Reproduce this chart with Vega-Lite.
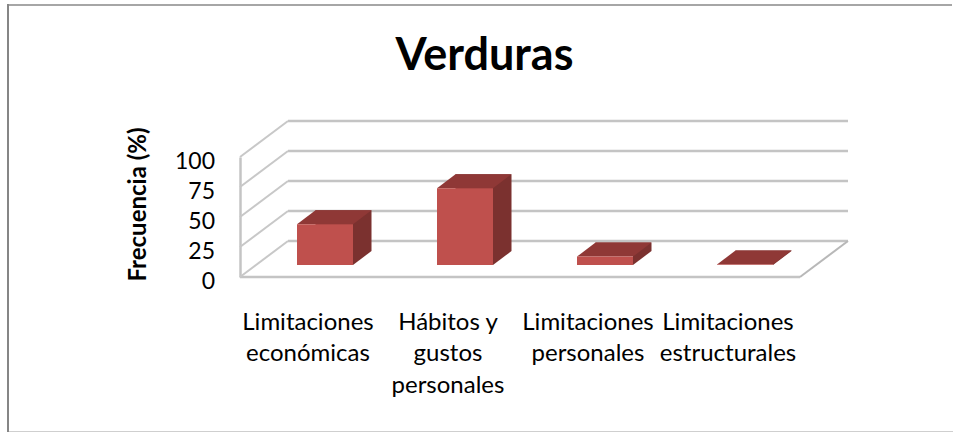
{
"$schema":"https://vega.github.io/schema/vega-lite/v6.json",
"width":953,"height":432,"padding":0,"autosize":{"type":"none"},"background":"white",
"config":{"view":{"stroke":null},"font":"Lato"},
"title":{"text":"Verduras","font":"Lato","fontSize":45,"fontWeight":"bold","color":"#000000","anchor":"middle","frame":"group","baseline":"middle","offset":0,"dx":8,"dy":101},
"datasets":{
"ticks":[{"v":0},{"v":25},{"v":50},{"v":75},{"v":100}],
"floor":[{"v":0}],
"bars":[
{"categoria":"Limitaciones económicas","v":34},
{"categoria":"Hábitos y gustos personales","v":64},
{"categoria":"Limitaciones personales","v":7},
{"categoria":"Limitaciones estructurales","v":0.4}]},
"encoding":{"y":{"field":"v","type":"quantitative","scale":{"domain":[0,100],"range":[277,157],"nice":false,"zero":false},
"axis":{"values":[0,25,50,75,100],"offset":-240,"grid":false,"ticks":false,"domain":true,"domainColor":"#c4c4c4","domainWidth":2.5,"labelPadding":25.5,"labelOffset":4.5,"labelFont":"Lato","labelFontSize":23,"labelColor":"#000000","labelFlush":false,"labelOverlap":false,"title":"Frecuencia (%)","titleFont":"Lato","titleFontSize":24,"titleFontWeight":"bold","titleColor":"#000000","titleX":-102,"titleY":204,"titleAngle":-90,"titleAlign":"center","titleBaseline":"middle"}}},
"layer":[
{"data":{"name":"floor"},"mark":{"type":"rule","color":"#a6a6a6","strokeWidth":2},
"encoding":{"x":{"value":7},"x2":{"value":952},"y":{"value":5}}},
{"data":{"name":"floor"},"mark":{"type":"rule","color":"#868686","strokeWidth":2},
"encoding":{"x":{"value":8},"y":{"value":4},"y2":{"value":432}}},
{"data":{"name":"floor"},"mark":{"type":"rule","color":"#cfcfcf","strokeWidth":1},
"encoding":{"x":{"value":9},"x2":{"value":953},"y":{"value":431.5}}},
{"data":{"name":"ticks"},"mark":{"type":"rule","color":"#c4c4c4","strokeWidth":2.5,"xOffset":48,"x2Offset":48,"yOffset":-36},
"encoding":{"x":{"datum":0,"type":"quantitative","scale":{"domain":[0,1],"range":[240,800]},"axis":null},"x2":{"datum":1}}},
{"data":{"name":"floor"},"mark":{"type":"rule","color":"#c4c4c4","strokeWidth":2.5},
"encoding":{"x":{"datum":0,"type":"quantitative","scale":{"domain":[0,1],"range":[240,800]},"axis":null},"x2":{"datum":1}}},
{"data":{"name":"ticks"},"mark":{"type":"point","shape":"M0,0L0.48,-0.36","size":40000,"filled":false,"stroke":"#c8c8c8","strokeWidth":2,"opacity":1},
"encoding":{"x":{"datum":0,"type":"quantitative","scale":{"domain":[0,1],"range":[240,800]},"axis":null}}},
{"data":{"name":"floor"},"mark":{"type":"point","shape":"M0,0L0.48,-0.36","size":40000,"filled":false,"stroke":"#b8b8b8","strokeWidth":2,"opacity":1},
"encoding":{"x":{"datum":1,"type":"quantitative","scale":{"domain":[0,1],"range":[240,800]},"axis":null}}},
{"data":{"name":"bars"},"mark":{"type":"bar","size":56,"color":"#7b312f","xOffset":33.5,"yOffset":-26,"y2Offset":-26},
"encoding":{"x":{"field":"categoria","type":"nominal","sort":null,"scale":{"range":[240,800],"paddingInner":0,"paddingOuter":0},"axis":null}}},
{"data":{"name":"bars"},"mark":{"type":"point","shape":"M0.28,0L0.465,-0.14L0.28,-0.14Z","size":40000,"filled":true,"color":"#7b312f","opacity":1,"xOffset":15,"yOffset":-12},
"encoding":{"x":{"field":"categoria","type":"nominal","sort":null,"scale":{"range":[240,800],"paddingInner":0,"paddingOuter":0},"axis":null},"y":{"datum":0}}},
{"data":{"name":"bars"},"mark":{"type":"point","shape":"M-0.28,0L0.28,0L0.465,-0.14L-0.095,-0.14Z","size":40000,"filled":true,"color":"#8f3836","opacity":1,"xOffset":15,"yOffset":-12},
"encoding":{"x":{"field":"categoria","type":"nominal","sort":null,"scale":{"range":[240,800],"paddingInner":0,"paddingOuter":0},"axis":null}}},
{"data":{"name":"bars"},"mark":{"type":"bar","size":56,"color":"#bf504d","xOffset":15,"yOffset":-12,"y2Offset":-12},
"encoding":{"x":{"field":"categoria","type":"nominal","sort":null,"scale":{"range":[240,800],"paddingInner":0,"paddingOuter":0},
"axis":{"orient":"bottom","offset":-122,"title":null,"ticks":false,"domain":false,"grid":false,"labelAngle":0,"labelAlign":"center","labelBaseline":"top","labelPadding":0,"labelOffset":-2,"labelFont":"Lato","labelFontSize":24,"labelLineHeight":31.5,"labelColor":"#000000","labelLimit":400,"labelOverlap":false,"labelFlush":false,"labelBound":false,
"labelExpr":"datum.label == 'Hábitos y gustos personales' ? ['Hábitos y','gustos','personales'] : split(datum.label,' ')"}}}}
],
"resolve":{"scale":{"x":"independent"},"axis":{"x":"independent"}}
}
